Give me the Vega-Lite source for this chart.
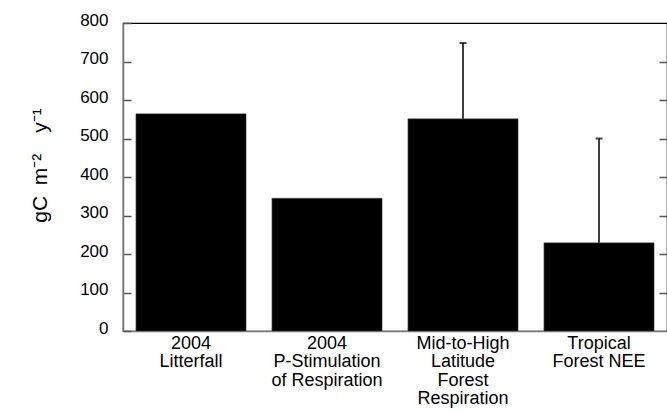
{
  "$schema": "https://vega.github.io/schema/vega-lite/v6.json",
  "width": 544,
  "height": 308,
  "autosize": {"type": "none"},
  "padding": {"left": 123, "top": 23, "right": 0, "bottom": 80},
  "config": {
    "font": "Liberation Sans",
    "view": {"stroke": "black", "strokeWidth": 1.2},
    "axis": {"labelFont": "Liberation Sans", "titleFont": "Liberation Sans", "labelColor": "black", "titleColor": "black", "grid": false}
  },
  "data": {
    "values": [
      {"category": "2004|Litterfall", "value": 564, "upper": null},
      {"category": "2004|P-Stimulation|of Respiration", "value": 345, "upper": null},
      {"category": "Mid-to-High|Latitude|Forest|Respiration", "value": 551, "upper": 748},
      {"category": "Tropical|Forest NEE", "value": 229, "upper": 500}
    ]
  },
  "encoding": {
    "x": {
      "field": "category", "type": "nominal", "sort": null,
      "scale": {"paddingInner": 0.19, "paddingOuter": 0.095},
      "axis": {"title": null, "labelAngle": 0, "labelExpr": "split(datum.label, '|')", "labelFontSize": 18, "labelLineHeight": 18.5, "ticks": false, "labelPadding": 3, "labelLimit": 200, "domainColor": "#777", "domainWidth": 1.5}
    }
  },
  "layer": [
    {
      "mark": {"type": "bar", "color": "black", "stroke": "#555", "strokeWidth": 0.5},
      "encoding": {
        "y": {
          "field": "value", "type": "quantitative",
          "scale": {"domain": [0, 800], "nice": false},
          "axis": {"title": "gC\u2002m⁻²\u2002\u2002y⁻¹", "titleFontSize": 21, "titleFontWeight": "normal", "titleX": -83, "titleY": 142, "titleBaseline": "middle", "titleAlign": "center", "titleAngle": -90, "values": [0,100,200,300,400,500,600,700,800], "tickSize": -8, "tickColor": "#555", "tickWidth": 1.5, "labelPadding": 23, "labelFontSize": 17, "labelOffset": -3, "domainColor": "#777", "domainWidth": 1.5}
        }
      }
    },
    {
      "mark": {"type": "rule", "color": "black", "strokeWidth": 1.5},
      "transform": [{"filter": "datum.upper != null"}],
      "encoding": {
        "y": {"field": "value", "type": "quantitative", "scale": {"domain": [0, 800], "nice": false},
          "axis": {"orient": "right", "title": null, "labels": false, "values": [100,200,300,400,500,600,700], "tickSize": -8, "tickColor": "#555", "tickWidth": 1.5, "domain": false}},
        "y2": {"field": "upper"}
      }
    },
    {
      "mark": {"type": "tick", "color": "black", "size": 7, "thickness": 2, "orient": "horizontal"},
      "transform": [{"filter": "datum.upper != null"}],
      "encoding": {
        "y": {"field": "upper", "type": "quantitative", "scale": {"domain": [0, 800], "nice": false}, "axis": null}
      }
    }
  ],
  "resolve": {"axis": {"y": "independent"}}
}
